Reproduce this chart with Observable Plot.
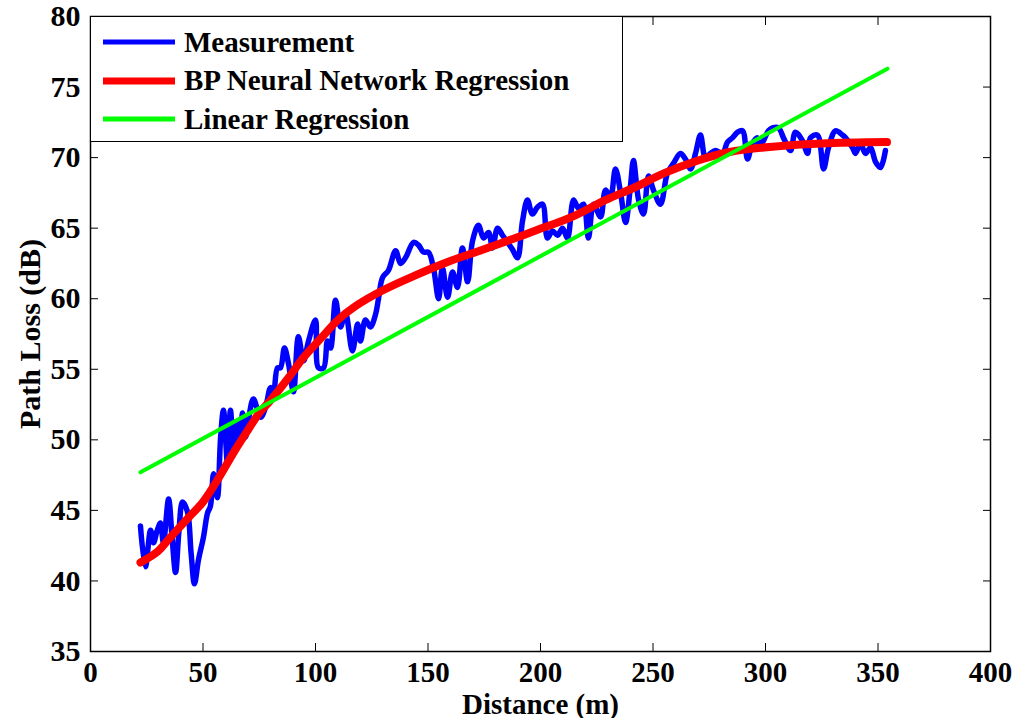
<!DOCTYPE html>
<html>
<head>
<meta charset="utf-8">
<script src="https://cdn.jsdelivr.net/npm/d3@7"></script>
<script src="https://cdn.jsdelivr.net/npm/@observablehq/plot@0.6"></script>
<style>
  html, body { margin: 0; padding: 0; background: #fff; }
  #wrap { position: relative; width: 1015px; height: 718px; }
  #legend { position: absolute; left: 90px; top: 16px; width: 533px; height: 126px;
            border: 1.5px solid #000; background: #fff; box-sizing: border-box;
            font: bold 29px "Liberation Serif", "Times New Roman", serif; }
  #legend .row { position: absolute; left: 12px; height: 30px; display: flex; align-items: center; }
  #legend .sw { width: 72px; margin-right: 9px; }
</style>
</head>
<body>
<div id="wrap"></div>
<script>
// Measurement
const measDist = [22.2,24.4,26.7,28,29.5,31.1,32.4,34.7,36.3,37.8,39.3,40.9,43.1,44.7,46.2,48,50.2,52,53.3,54.7,56.4,57.8,59.1,60.9,62.2,63.6,65.3,66.4,67.6,68.9,70.2,72.4,75.6,77.8,80,81.3,83.1,84.4,86.2,88,90.2,92.4,94.7,96.9,100,101.3,103.6,105.3,106.7,108.9,111.1,113.3,116.4,118.7,120,122.2,124.4,126.7,128,129.8,132.4,135.6,137.8,140,143.6,145.8,148,150.2,152.4,154.7,156.4,158.7,160.9,163.1,165.3,167.6,169.8,172.4,174.7,176.9,178.7,180.9,183.1,185.8,187.5,189.8,192,194.2,196.4,198.7,200.9,203.1,205.3,207.6,209.8,212,214.7,216.9,219.1,221.3,223.6,226.7,228.9,231.1,233.3,235.6,237.8,240,241.3,243.6,245.8,248,250.2,253.3,256.4,259.1,262.2,264.4,266.7,268.9,271.1,273.3,275.6,277.8,280.9,283.1,285.3,287.6,289.8,292,294.2,296.4,297,299.1,301.3,303.1,305.8,308,311.1,313.3,316.4,318.7,320,323.1,325.8,328,331.1,334.2,335.6,338.7,340,342.2,344.4,346.7,348.9,351.1,353.3];
const measLoss = [43.9,41.0,43.6,42.7,43.5,44.1,42.7,45.8,43.0,40.6,43.5,45.6,44.9,42.0,39.8,41.5,43.1,44.8,45.3,47.6,45.9,50.1,52.1,48.3,52.1,49.5,51.2,49.8,51.9,50.2,51.4,52.9,51.6,52.3,53.7,53.3,55.1,55.1,56.5,55.4,53.4,57.3,55.6,57.0,58.5,55.1,55.1,57.0,56.5,59.9,58.0,59.0,56.3,58.2,57.0,58.5,58.0,58.9,60.0,61.5,62.0,63.4,62.5,62.9,64.0,63.8,63.3,63.3,62.2,60.0,62.2,60.1,61.9,60.8,63.6,61.2,64.1,65.2,64.3,64.7,63.6,65.0,64.5,63.9,63.5,62.9,65.5,67.0,66.0,66.5,66.7,64.3,64.8,64.5,65.0,64.3,67.0,66.4,66.7,64.3,66.7,65.8,67.7,67.2,69.2,67.5,65.4,68.0,69.8,67.0,66.0,68.7,67.7,66.7,68.9,69.6,70.3,69.9,69.2,70.3,71.6,70.0,70.3,70.5,70.3,71.1,71.4,71.8,71.9,69.9,71.0,71.4,70.8,71.2,71.9,72.1,72.1,71.4,70.5,71.8,71.2,70.3,71.4,71.6,69.2,70.7,71.9,71.6,71.4,70.7,70.3,71.0,70.3,70.7,69.7,69.3,70.5];
// BP neural network regression
const bpDist = [22.2,30,35,43.6,50,57,64,70,75,80,88,95,103,110,118,130,143.6,158.7,173,187,199,214,229,242,255,270,284,298,325,354];
const bpLoss = [41.3,42.1,43.0,44.5,45.6,47.3,49.2,50.7,51.9,52.8,54.4,55.9,57.3,58.5,59.5,60.6,61.6,62.6,63.4,64.2,64.9,65.8,67.0,67.9,68.9,69.8,70.4,70.7,71.0,71.1];
// Linear regression
const linDist = [22.2, 354.2];
const linLoss = [47.7, 76.3];
// Axes
const xTicks = [0,50,100,150,200,250,300,350,400];
const yTicks = [35,40,45,50,55,60,65,70,75,80];
const seriesNames = ["Measurement", "BP Neural Network Regression", "Linear Regression"];
const seriesColors = ["#0000ff", "#ff0000", "#00ff00"];

const meas = measDist.map((d, i) => ({d, v: measLoss[i]}));
const bp = bpDist.map((d, i) => ({d, v: bpLoss[i]}));
const lin = linDist.map((d, i) => ({d, v: linLoss[i]}));

const plot = Plot.plot({
  width: 1015,
  height: 718,
  marginLeft: 90,
  marginRight: 25,
  marginTop: 16,
  marginBottom: 67,
  style: {fontFamily: '"Liberation Serif", "Times New Roman", serif', fontSize: "29px", fontWeight: "bold", color: "#000", background: "#fff"},
  x: {domain: [0, 400], label: null},
  y: {domain: [35, 80], label: null},
  marks: [
    Plot.line(meas, {x: "d", y: "v", stroke: seriesColors[0], strokeWidth: 5.5, strokeLinejoin: "round", curve: "catmull-rom"}),
    Plot.line(bp, {x: "d", y: "v", stroke: seriesColors[1], strokeWidth: 8, curve: "catmull-rom"}),
    Plot.line(lin, {x: "d", y: "v", stroke: seriesColors[2], strokeWidth: 4}),
    Plot.axisX({ticks: xTicks, tickSize: -8, tickPadding: 18, tickFormat: d3.format("d"), label: "Distance (m)", labelAnchor: "center", labelOffset: 62, labelArrow: "none", fontSize: 29}),
    Plot.axisX({ticks: xTicks, anchor: "top", tickSize: -8, tickFormat: () => "", label: null}),
    Plot.axisY({ticks: yTicks, tickSize: -8, tickPadding: 18, tickFormat: d3.format("d"), label: "Path Loss (dB)", labelAnchor: "center", labelOffset: 72, labelArrow: "none", fontSize: 30}),
    Plot.axisY({ticks: yTicks, anchor: "right", tickSize: -8, tickFormat: () => "", label: null}),
    Plot.frame({stroke: "#000", strokeWidth: 1.5})
  ]
});

const wrap = document.getElementById("wrap");
wrap.appendChild(plot);

const legend = document.createElement("div");
legend.id = "legend";
seriesNames.forEach((name, i) => {
  const row = document.createElement("div");
  row.className = "row";
  row.style.top = (10 + i * 38.5) + "px";
  const sw = document.createElementNS("http://www.w3.org/2000/svg", "svg");
  sw.setAttribute("class", "sw");
  sw.setAttribute("width", 72);
  sw.setAttribute("height", 10);
  const ln = document.createElementNS("http://www.w3.org/2000/svg", "line");
  ln.setAttribute("x1", 0); ln.setAttribute("x2", 72);
  ln.setAttribute("y1", 5); ln.setAttribute("y2", 5);
  ln.setAttribute("stroke", seriesColors[i]);
  ln.setAttribute("stroke-width", i === 1 ? 7 : 5);
  sw.appendChild(ln);
  const t = document.createElement("span");
  t.textContent = name;
  row.appendChild(sw);
  row.appendChild(t);
  legend.appendChild(row);
});
wrap.appendChild(legend);
</script>
</body>
</html>
